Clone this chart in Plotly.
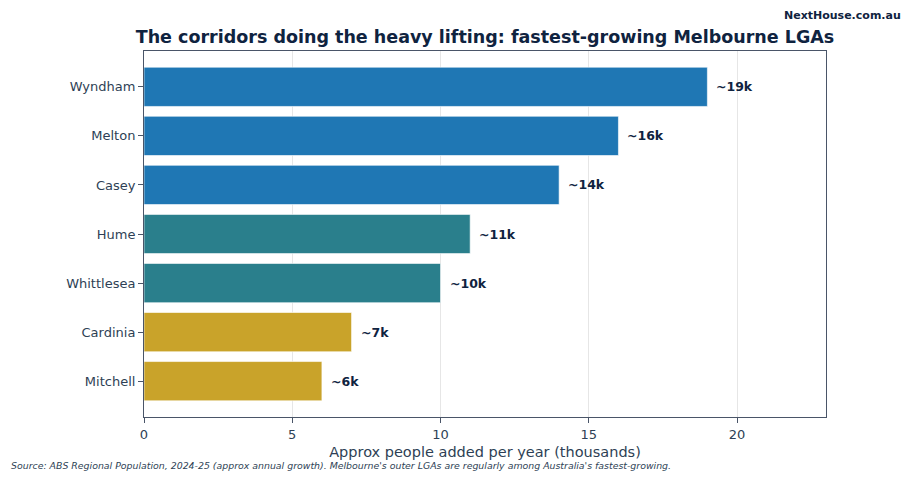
import plotly.graph_objects as go

# data
lgas = ["Wyndham", "Melton", "Casey", "Hume", "Whittlesea", "Cardinia", "Mitchell"]
growth_k = [19, 16, 14, 11, 10, 7, 6]
labels = ["~19k", "~16k", "~14k", "~11k", "~10k", "~7k", "~6k"]
bar_colors = ["#1f77b4", "#1f77b4", "#1f77b4", "#2a7f8c", "#2a7f8c", "#c9a32a", "#c9a32a"]

NAVY = "#0f2340"
GREY = "#2e3f55"
FONT = "DejaVu Sans"

fig = go.Figure(
    go.Bar(
        x=growth_k,
        y=lgas,
        orientation="h",
        marker=dict(color=bar_colors, line=dict(color="rgba(255,255,255,0.6)", width=1)),
        width=0.8,
        hoverinfo="skip",
    )
)

for lga, v, lab in zip(lgas, growth_k, labels):
    fig.add_annotation(
        x=v, y=lga, text="<b>" + lab + "</b>", showarrow=False,
        xanchor="left", xshift=7, font=dict(family=FONT, size=12.5, color=NAVY),
    )

fig.add_annotation(
    x=1, y=1, xref="paper", yref="paper", xanchor="right", yanchor="middle",
    xshift=77, yshift=36, showarrow=False,
    text="<b>NextHouse.com.au</b>", font=dict(family=FONT, size=11, color=NAVY),
)
fig.add_annotation(
    x=0, y=0, xref="paper", yref="paper", xanchor="left", yanchor="middle",
    xshift=-135, yshift=-48, showarrow=False,
    text="<i>Source: ABS Regional Population, 2024-25 (approx annual growth). Melbourne's outer LGAs are regularly among Australia's fastest-growing.</i>",
    font=dict(family=FONT, size=9.4, color=GREY),
)

fig.update_layout(
    width=915, height=480,
    margin=dict(l=136, r=97, t=43, b=71),
    plot_bgcolor="white", paper_bgcolor="white",
    font=dict(family=FONT, color=GREY),
    showlegend=False,
    title=dict(
        text="<b>The corridors doing the heavy lifting: fastest-growing Melbourne LGAs</b>",
        x=0.5, xref="paper", xanchor="center", y=0.94, yanchor="middle",
        font=dict(family=FONT, size=17.5, color=NAVY),
    ),
    xaxis=dict(
        range=[0, 23], tickvals=[0, 5, 10, 15, 20],
        showgrid=True, gridcolor="#e6e6e6", zeroline=False,
        showline=True, linecolor="#4a5568", linewidth=1, mirror=True,
        ticks="outside", ticklen=5, tickcolor="#4a5568",
        tickfont=dict(size=13, color=GREY),
        title=dict(text="Approx people added per year (thousands)", font=dict(size=14.5, color=GREY), standoff=6),
    ),
    yaxis=dict(
        categoryorder="array", categoryarray=lgas, autorange=False, range=[6.73, -0.73],
        showgrid=False, zeroline=False,
        showline=True, linecolor="#4a5568", linewidth=1, mirror=True,
        ticks="outside", ticklen=5, tickcolor="#4a5568",
        tickfont=dict(size=13, color=GREY),
    ),
)

fig.write_html("out.html")
